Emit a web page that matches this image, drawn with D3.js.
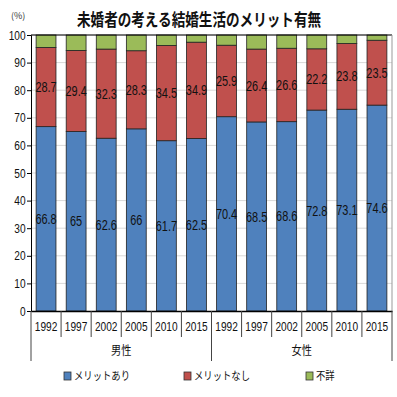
<!DOCTYPE html>
<html>
<head>
<meta charset="utf-8">
<script src="https://cdn.jsdelivr.net/npm/d3@7"></script>
<style>
  body { margin: 0; background: #fff; }
  text { font-family: "Noto Sans CJK JP", sans-serif; }
  .num { font-family: "Liberation Sans", Arial, sans-serif; }
</style>
</head>
<body>
<div id="chart"></div>
<script>
// chart data
const years = ["1992", "1997", "2002", "2005", "2010", "2015"];
const groups = ["男性", "女性"];
const seriesNames = ["メリットあり", "メリットなし", "不詳"];
const merit   = [66.8, 65, 62.6, 66, 61.7, 62.5, 70.4, 68.5, 68.6, 72.8, 73.1, 74.6];
const noMerit = [28.7, 29.4, 32.3, 28.3, 34.5, 34.9, 25.9, 26.4, 26.6, 22.2, 23.8, 23.5];
const unknown = [4.5, 5.6, 5.1, 5.7, 3.8, 2.6, 3.7, 5.1, 4.8, 5.0, 3.1, 1.9];
const yTicks = [0, 10, 20, 30, 40, 50, 60, 70, 80, 90, 100];

const colors = ["#4F81BD", "#C0504D", "#9BBB59"];
const narrow = 0.78; // horizontal squeeze to mimic a condensed face

const W = 397, H = 397;
const margin = {top: 35, right: 5, bottom: 86, left: 31};
const width = W - margin.left - margin.right,
      height = H - margin.top - margin.bottom;

const svg = d3.select("#chart").append("svg")
    .attr("width", W).attr("height", H);

// build table
const cats = [];
groups.forEach(function(g) { years.forEach(function(y) { cats.push(g + "-" + y); }); });
const table = cats.map(function(c, i) {
    return {key: c, a: merit[i], b: noMerit[i], c: unknown[i]};
});
const stack = d3.stack().keys(["a", "b", "c"])(table);

const x = d3.scaleBand().domain(cats).range([0, width]).paddingInner(0.34).paddingOuter(0.17);
const y = d3.scaleLinear().domain([0, 100]).range([height, 0]);

const g = svg.append("g").attr("transform", "translate(" + margin.left + "," + margin.top + ")");

// gridlines
g.append("g").selectAll("line").data(yTicks.slice(1)).enter().append("line")
    .attr("x1", 0).attr("x2", width)
    .attr("y1", function(d) { return y(d); }).attr("y2", function(d) { return y(d); })
    .attr("stroke", "#d9d9d9").attr("stroke-width", 1);

// bars
const layers = g.selectAll(".layer").data(stack).enter().append("g")
    .attr("fill", function(d, i) { return colors[i]; });
layers.selectAll("rect").data(function(d) { return d; }).enter().append("rect")
    .attr("x", function(d) { return x(d.data.key); })
    .attr("width", x.bandwidth())
    .attr("y", function(d) { return y(d[1]); })
    .attr("height", function(d) { return y(d[0]) - y(d[1]); })
    .attr("stroke", "#222").attr("stroke-width", 0.8);

// value labels (merit, no merit)
stack.slice(0, 2).forEach(function(s) {
    g.append("g").selectAll("text").data(s).enter().append("text")
        .attr("class", "num")
        .attr("transform", function(d) {
            return "translate(" + (x(d.data.key) + x.bandwidth() / 2) + "," + y((d[0] + d[1]) / 2) + ") scale(" + narrow + ",1)";
        })
        .attr("dy", "0.36em")
        .attr("text-anchor", "middle")
        .attr("font-size", 14)
        .attr("fill", "#111")
        .text(function(d) { return d.data[s.key]; });
});

// frame top / right
g.append("line").attr("x1", 0).attr("x2", width).attr("y1", 0).attr("y2", 0).attr("stroke", "#000");
g.append("line").attr("x1", width).attr("x2", width).attr("y1", 0).attr("y2", height).attr("stroke", "#999");

// y axis
const yAxis = g.append("g").call(d3.axisLeft(y).tickValues(yTicks).tickSize(4).tickPadding(3));
yAxis.select(".domain").attr("stroke", "#000");
yAxis.selectAll("text").attr("class", "num").attr("font-size", 13).attr("fill", "#111")
    .attr("transform", "scale(" + narrow + ",1)");

// x axis
const xAxis = g.append("g").attr("transform", "translate(0," + height + ")")
    .call(d3.axisBottom(x).tickSize(0).tickFormat(function(d) { return d.split("-")[1]; }));
xAxis.select(".domain").attr("stroke", "#000").attr("stroke-width", 1.5);
xAxis.selectAll("text").attr("class", "num").attr("font-size", 13).attr("fill", "#111")
    .attr("dy", "1.3em").attr("transform", "scale(" + narrow + ",1)");

// separators between categories
const seps = d3.range(cats.length + 1);
g.append("g").selectAll("line").data(seps).enter().append("line")
    .attr("x1", function(i) { return i * width / cats.length; })
    .attr("x2", function(i) { return i * width / cats.length; })
    .attr("y1", height)
    .attr("y2", function(i) { return (i % years.length === 0) ? height + 50 : height + 26; })
    .attr("stroke", "#444").attr("stroke-width", 1);

// group labels
g.append("g").selectAll("text").data(groups).enter().append("text")
    .attr("transform", function(d, i) {
        return "translate(" + ((i + 0.5) * width / groups.length) + "," + (height + 44) + ") scale(0.85,1)";
    })
    .attr("text-anchor", "middle")
    .attr("font-size", 12)
    .attr("fill", "#111")
    .text(function(d) { return d; });

// title
svg.append("text")
    .attr("transform", "translate(199,26) scale(0.8,1)")
    .attr("text-anchor", "middle")
    .attr("font-size", 17).attr("font-weight", "bold")
    .attr("fill", "#111")
    .text("未婚者の考える結婚生活のメリット有無");
svg.append("text")
    .attr("x", 11).attr("y", 19)
    .attr("font-size", 9).attr("fill", "#333")
    .text("(%)");

// legend
const legendX = [64, 184, 306];
const leg = svg.append("g").selectAll("g").data(seriesNames).enter().append("g")
    .attr("transform", function(d, i) { return "translate(" + legendX[i] + ",372)"; });
leg.append("rect").attr("width", 7).attr("height", 8)
    .attr("fill", function(d, i) { return colors[i]; })
    .attr("stroke", "#333").attr("stroke-width", 0.8);
leg.append("text").attr("transform", "translate(10,8) scale(0.85,1)")
    .attr("font-size", 11).attr("fill", "#111")
    .text(function(d) { return d; });
</script>
</body>
</html>
